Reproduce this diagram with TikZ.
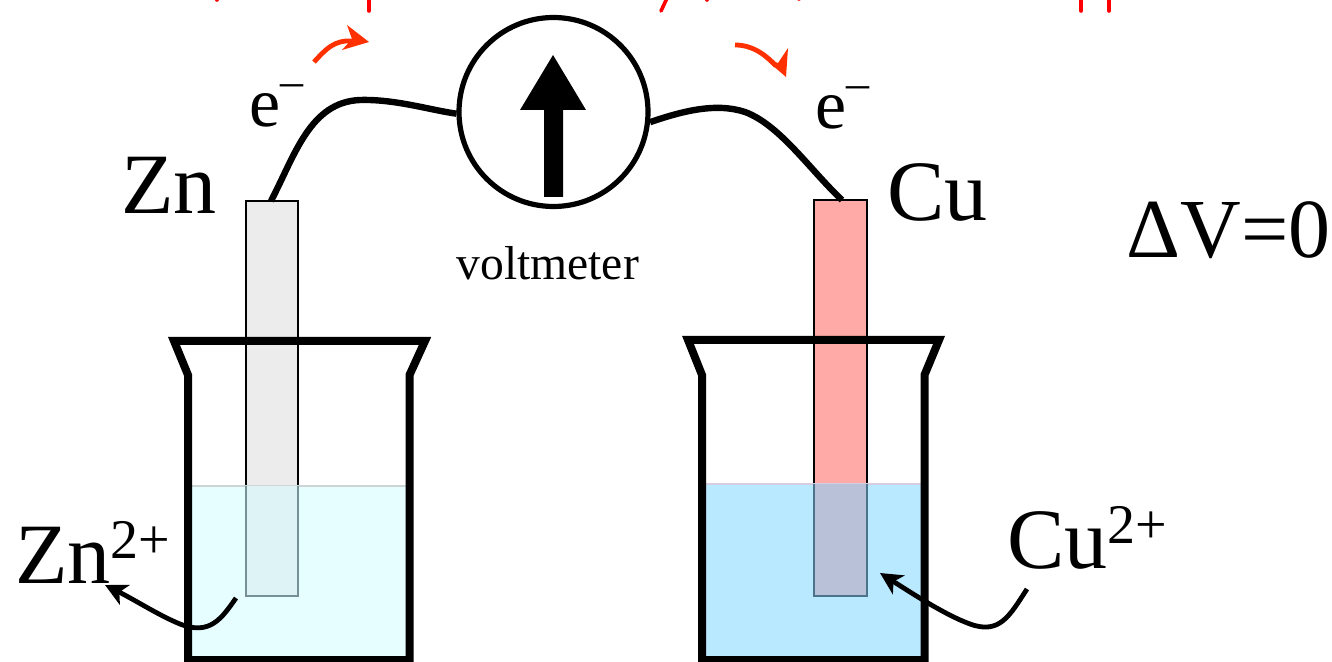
\documentclass[tikz,border=0pt]{standalone}
\usepackage{fontspec}
\setmainfont{Liberation Serif}
\usetikzlibrary{arrows.meta}
\definecolor{hotred}{RGB}{255,48,0}
\newcommand{\supion}{{\fontsize{28}{28}\selectfont\raisebox{12.5pt}{2+}}}
\newcommand{\supminus}{{\fontsize{23}{23}\selectfont\raisebox{15pt}{–}}}
\tikzset{
  px/.style={x=0.5pt,y=-0.5pt},
  lab/.style={font=\fontsize{43}{45}\selectfont,inner sep=0pt,anchor=base west},
  elec/.style={font=\fontsize{35}{37}\selectfont,inner sep=0pt,anchor=base west},
  glass/.style={draw=black,line width=4pt,line join=miter},
  wire/.style={draw=black,line width=3.2pt},
  lead/.style={draw=black,line width=2.4pt,-{Stealth[length=11pt,width=11pt,inset=3pt]}},
  hotline/.style={draw=hotred,line width=2.4pt},
  hothead/.style={fill=hotred},
  scrap/.style={draw=red,line width=1.8pt,line cap=round},
  rod/.style={draw=black,line width=0.7pt}
}
\begin{document}
\begin{tikzpicture}[px]
\useasboundingbox (0,0) rectangle (1332,662);
% rods
\draw[rod,fill={rgb,255:red,236;green,236;blue,236}] (246,201) rectangle (298,596);
\draw[rod,fill={rgb,255:red,255;green,170;blue,166}] (814,200) rectangle (867,596);
% liquids
\fill[fill={rgb,255:red,230;green,254;blue,255}] (189,486) rectangle (407,656);
\fill[fill={rgb,255:red,184;green,233;blue,255}] (705,484) rectangle (922,656);
\draw[draw={rgb,255:red,205;green,212;blue,212},line width=0.8pt] (189,486) -- (407,486);
\draw[draw={rgb,255:red,215;green,205;blue,225},line width=0.8pt] (705,484) -- (922,484);
\draw[draw={rgb,255:red,118;green,145;blue,150},line width=0.8pt,fill={rgb,255:red,222;green,243;blue,245}] (246,486) -- (246,596) -- (298,596) -- (298,486);
\draw[draw={rgb,255:red,75;green,115;blue,140},line width=0.8pt,fill={rgb,255:red,184;green,193;blue,216}] (814,484) -- (814,596) -- (867,596) -- (867,484);
% beakers
\draw[glass] (174,341) -- (425,341) -- (409.5,375) -- (409.5,660) -- (188,660) -- (188,375) -- cycle;
\draw[glass] (688,340) -- (939,340) -- (924.5,375) -- (924.5,660) -- (702,660) -- (702,375) -- cycle;
% meter
\node[circle,draw=black,line width=2.6pt,minimum size=94.5pt,inner sep=0pt] (meter) at (553.5,112) {};
\fill[black] (544,197) -- (563,197) -- (563,110) -- (586,110) -- (553,55) -- (520,110) -- (544,110) -- cycle;
% wires
\coordinate (zntop) at (271,201);
\coordinate (cutop) at (842,200);
\draw[wire] (zntop) .. controls (295,155) and (310,102) .. (360,100) .. controls (395,99) and (430,110) .. (meter.181);
\draw[wire] (meter.-6) .. controls (680,112) and (715,102) .. (745,112) .. controls (780,125) and (810,170) .. (cutop);
% labels
\node[lab] (zn) at (121,214) {Zn};
\node[lab] (cu) at (887,221) {Cu};
\node[lab,font=\fontsize{42}{44}\selectfont] (dv) at (1126,258) {ΔV=0};
\node[lab] (zni) at (15,583) {Zn\supion};
\node[lab] (cui) at (1007,568) {Cu\supion};
\node[elec] (e1) at (249,127) {e\supminus};
\node[elec] (e2) at (815,129) {e\supminus};
\node[lab,font=\fontsize{23.8}{25}\selectfont] (volt) at (456,280) {voltmeter};
% leaders
\coordinate (a1) at (236,598);
\coordinate (a2) at (105,585);
\draw[lead] (a1) .. controls (222,618) and (210,636) .. (180,624) .. controls (160,616) and (135,600) .. (a2);
\coordinate (b1) at (1027,589);
\coordinate (b2) at (880,573);
\draw[lead] (b1) .. controls (1010,615) and (1000,635) .. (970,624) .. controls (945,615) and (910,592) .. (b2);
% red arrows
\coordinate (r1) at (314,62);
\coordinate (r1e) at (352,41);
\draw[hotline] (r1) .. controls (326,49) and (334,40) .. (r1e);
\fill[hothead] (369,42) -- (347,25) -- (352,39) -- (342,50) -- cycle;
\coordinate (r2) at (735,45);
\coordinate (r2e) at (776,66);
\draw[hotline] (r2) .. controls (752,45) and (765,54) .. (r2e);
\fill[hothead] (786,77) -- (788,48) -- (778,63) -- (764,58) -- cycle;
% clipped handwriting
\begin{scope}
\clip (0,0) rectangle (1332,662);
\coordinate (m1a) at (369,-4); \coordinate (m1b) at (369,11);
\draw[scrap] (m1a) -- (m1b);
\coordinate (m2a) at (668,-4); \coordinate (m2b) at (661,11);
\draw[scrap] (m2a) -- (m2b);
\coordinate (m3a) at (1081,-4); \coordinate (m3b) at (1081,11);
\draw[scrap] (m3a) -- (m3b);
\coordinate (m4a) at (1109,-4); \coordinate (m4b) at (1109,11);
\draw[scrap] (m4a) -- (m4b);
\coordinate (m5a) at (217,-4); \coordinate (m5b) at (217,0);
\draw[scrap] (m5a) -- (m5b);
\coordinate (m6a) at (707,-4); \coordinate (m6b) at (707,0);
\draw[scrap] (m6a) -- (m6b);
\coordinate (m7a) at (799,-4); \coordinate (m7b) at (799,-1);
\draw[scrap] (m7a) -- (m7b);
\end{scope}
\end{tikzpicture}
\end{document}
